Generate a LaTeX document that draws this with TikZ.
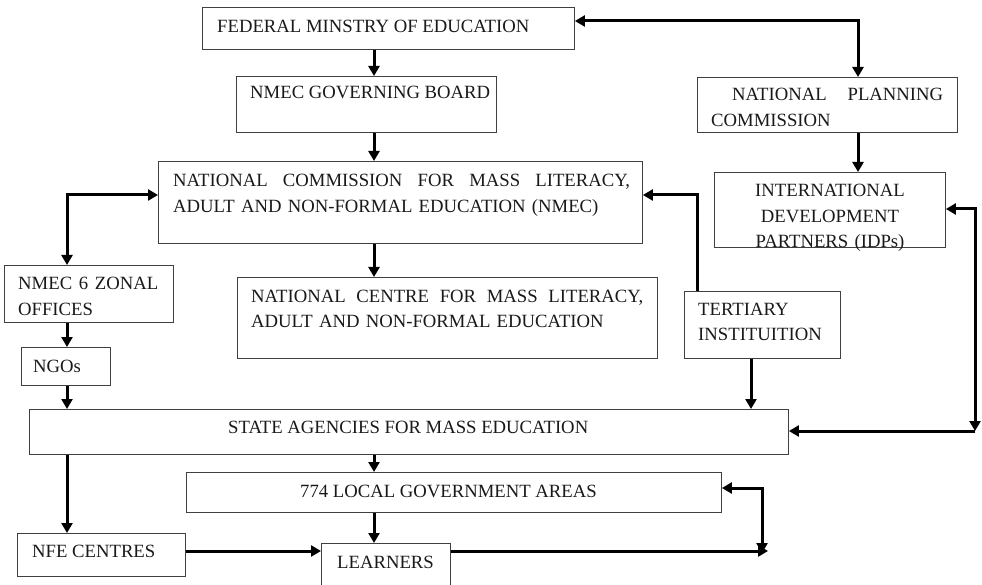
\documentclass[tikz,border=0pt]{standalone}
\usepackage{fontspec}
\setmainfont{Liberation Serif}
\usetikzlibrary{arrows.meta,calc}

\begin{document}
\begin{tikzpicture}[x = 1pt, y = -1pt, > = {Triangle[length=10pt, width=11pt]},
    box/.style = {draw = black!75, line width = 0.9pt, inner sep = 0pt, anchor = north west},
    txt/.style = {anchor = base west, inner sep = 0pt, text = black!90,
                  font = \fontsize{18.7}{25.5}\selectfont},
    link/.style = {line width = 3pt, ->}]
            \useasboundingbox (0, 0) rectangle (982, 585);

            % boxes
            \node[box, minimum width = 372pt, minimum height = 42pt] (fme) at (202, 7) {};
            \node[box, minimum width = 260pt, minimum height = 56pt] (gb) at (236, 76) {};
            \node[box, minimum width = 260pt, minimum height = 55pt] (npc) at (697, 77) {};
            \node[box, minimum width = 484pt, minimum height = 82pt] (nmec) at (158, 161) {};
            \node[box, minimum width = 231pt, minimum height = 75pt] (idp) at (714, 172) {};
            \node[box, minimum width = 169pt, minimum height = 57pt] (zonal) at (4, 265) {};
            \node[box, minimum width = 420pt, minimum height = 81pt] (nc) at (237, 277) {};
            \node[box, minimum width = 156pt, minimum height = 67pt] (tert) at (684, 291) {};
            \node[box, minimum width = 89pt, minimum height = 38pt] (ngos) at (21, 347) {};
            \node[box, minimum width = 759pt, minimum height = 45pt] (state) at (29, 409) {};
            \node[box, minimum width = 535pt, minimum height = 40pt] (lga) at (186, 472) {};
            \node[box, minimum width = 168pt, minimum height = 43pt] (nfe) at (17, 533) {};
            \node[box, minimum width = 129pt, minimum height = 52pt] (lrn) at (321, 543) {};

            % texts
            \node[txt] (fmeText) at (217, 33) {FEDERAL MINSTRY OF EDUCATION};
            \node[txt] (gbText) at (250, 99) {NMEC GOVERNING BOARD};
            \node[txt, text width = 232pt, align = left] (npcText) at (711, 101)
                {\hspace*{21pt}NATIONAL\hfill PLANNING\\COMMISSION};
            \node[txt, text width = 457pt, align = left] (nmecText) at (173, 187)
                {NATIONAL\hfill COMMISSION\hfill FOR\hfill MASS\hfill LITERACY,\\ADULT AND NON-FORMAL EDUCATION (NMEC)};
            \node[txt, anchor = base, text width = 231pt, align = center] (idpText) at (830, 197)
                {INTERNATIONAL\\DEVELOPMENT\\PARTNERS (IDPs)};
            \node[txt, text width = 140pt, align = left] (zonalText) at (18, 290)
                {NMEC\hfill 6\hfill ZONAL\\OFFICES};
            \node[txt, text width = 392pt, align = left] (ncText) at (251, 302)
                {NATIONAL\hfill CENTRE\hfill FOR\hfill MASS\hfill LITERACY,\\ADULT AND NON-FORMAL EDUCATION};
            \node[txt, text width = 140pt, align = left] (tertText) at (698, 315)
                {TERTIARY\\INSTITUITION};
            \node[txt] (ngosText) at (33, 372) {NGOs};
            \node[txt] (stateText) at (228, 433) {STATE AGENCIES FOR MASS EDUCATION};
            \node[txt] (lgaText) at (300, 497) {774 LOCAL GOVERNMENT AREAS};
            \node[txt] (nfeText) at (32, 557) {NFE CENTRES};
            \node[txt] (lrnText) at (337, 568) {LEARNERS};

            % turning points of the connectors
            \coordinate (spine) at (374, 0);
            \coordinate (topRight) at (858, 21);
            \coordinate (leftBend) at (67, 195);
            \coordinate (tertBend) at (697, 195);
            \coordinate (tertDown) at (751, 0);
            \coordinate (idpBend) at (975, 209);
            \coordinate (stateBend) at (975, 431);
            \coordinate (lgaBend) at (762, 488);
            \coordinate (lrnEnd) at (768, 551);

            % connectors
            \draw[link] (fme.south -| spine) -- (gb.north -| spine);
            \draw[link] (gb.south -| spine) -- (nmec.north -| spine);
            \draw[link] (nmec.south -| spine) -- (nc.north -| spine);
            \draw[link, <->] (fme.east |- topRight) -| (npc.north -| topRight);
            \draw[link] (npc.south -| topRight) -- (idp.north -| topRight);
            \draw[link, <->] (nmec.west |- leftBend) -| (zonal.north -| leftBend);
            \draw[link] (zonal.south -| leftBend) -- (ngos.north -| leftBend);
            \draw[link] (ngos.south -| leftBend) -- (state.north -| leftBend);
            \draw[link] (tert.north -| tertBend) |- (nmec.east |- tertBend);
            \draw[link] (tert.south -| tertDown) -- (state.north -| tertDown);
            \draw[link, <->] (idp.east |- idpBend) -| (stateBend);
            \draw[link] (stateBend) -- (state.east |- stateBend);
            \draw[link] (state.south -| leftBend) -- (nfe.north -| leftBend);
            \draw[link] (state.south -| spine) -- (lga.north -| spine);
            \draw[link] (lga.south -| spine) -- (lrn.north -| spine);
            \draw[link] (nfe.east |- lrnEnd) -- (lrn.west |- lrnEnd);
            \draw[link] (lrn.east |- lrnEnd) -- (lrnEnd);
            \draw[link, <->] (lga.east |- lgaBend) -| ($(lgaBend |- lrnEnd) + (0, 2)$);

        \end{tikzpicture}
\end{document}
